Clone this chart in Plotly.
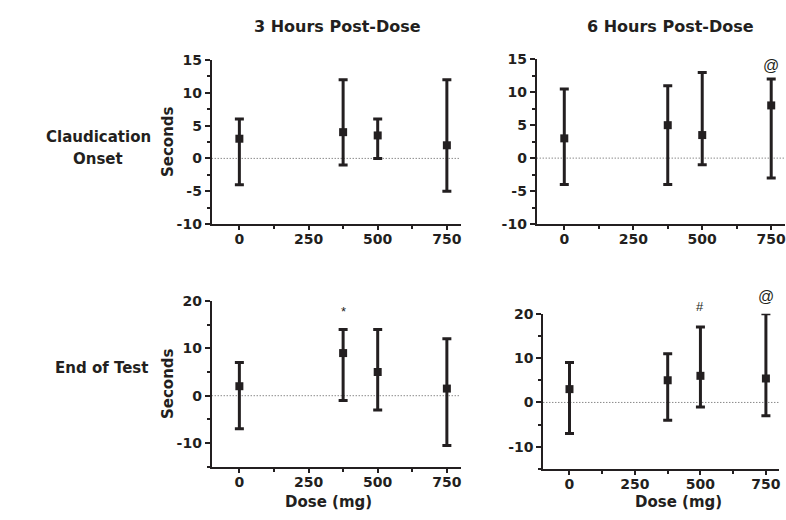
import plotly.graph_objects as go

# ---- data ----
doses = [0, 375, 500, 750]

# Claudication onset, 3 h post-dose
co3_mean = [3, 4, 3.5, 2]
co3_hi = [6, 12, 6, 12]
co3_lo = [-4, -1, 0, -5]

# Claudication onset, 6 h post-dose
co6_mean = [3, 5, 3.5, 8]
co6_hi = [10.5, 11, 13, 12]
co6_lo = [-4, -4, -1, -3]

# End of test, 3 h post-dose
et3_mean = [2, 9, 5, 1.5]
et3_hi = [7, 14, 14, 12]
et3_lo = [-7, -1, -3, -10.5]

# End of test, 6 h post-dose
et6_mean = [3, 5, 6, 5.4]
et6_hi = [9, 11, 17, 20]
et6_lo = [-7, -4, -1, -3]

x_ticks = [0, 250, 500, 750]
y_ticks_top = [-10, -5, 0, 5, 10, 15]
y_ticks_bottom = [-10, 0, 10, 20]
col_titles = ["3 Hours Post-Dose", "6 Hours Post-Dose"]
row_titles = [["Claudication", "Onset"], ["End of Test"]]

# significance marks: (panel, dose, y, symbol)
marks = [
    ("TR", 750, 14.0, "@"),
    ("BL", 375, 17.8, "*"),
    ("BR", 500, 21.6, "#"),
    ("BR", 750, 23.8, "@"),
]

W, H = 786, 520
INK = "#231f20"
FONT = "DejaVu Sans"


def px(x):
    return min(max(x / W, 0), 1)


def py(y):
    return min(max(1 - y / H, 0), 1)


def lab(v):
    return str(v).replace("\u2212", "-")


panels = {
    "TL": dict(ax="", dom_x=(211.7, 460.7), dom_y=(60, 224), xr=[-100, 800], rng=[-10, 15],
               dt=5, ticks=y_ticks_top, mean=co3_mean, hi=co3_hi, lo=co3_lo),
    "TR": dict(ax="2", dom_x=(536.7, 785), dom_y=(59.3, 224), xr=[-100, 800], rng=[-10, 15],
               dt=5, ticks=y_ticks_top, mean=co6_mean, hi=co6_hi, lo=co6_lo),
    "BL": dict(ax="3", dom_x=(211.7, 460.7), dom_y=(301, 466.7), xr=[-100, 800], rng=[-15, 20],
               dt=10, ticks=y_ticks_bottom, mean=et3_mean, hi=et3_hi, lo=et3_lo),
    "BR": dict(ax="4", dom_x=(543.3, 779), dom_y=(313.7, 469), xr=[-100, 800], rng=[-15, 20],
               dt=10, ticks=y_ticks_bottom, mean=et6_mean, hi=et6_hi, lo=et6_lo),
}

fig = go.Figure()
layout = {}
shapes = []
annotations = []

tickfont = dict(family=FONT, size=14, color=INK, weight="bold")

for key, p in panels.items():
    a = p["ax"]
    up = [h - m for h, m in zip(p["hi"], p["mean"])]
    down = [m - l for m, l in zip(p["mean"], p["lo"])]
    fig.add_trace(go.Scatter(
        x=doses, y=p["mean"], mode="markers",
        xaxis="x" + a, yaxis="y" + a,
        marker=dict(symbol="square", size=8, color=INK),
        error_y=dict(type="data", symmetric=False, array=up, arrayminus=down,
                     color=INK, thickness=3, width=4.5),
        showlegend=False, cliponaxis=False,
    ))
    layout["xaxis" + a] = dict(
        domain=[px(p["dom_x"][0]), px(p["dom_x"][1])],
        anchor="y" + a, range=p["xr"], automargin=False,
        tickmode="array", tickvals=x_ticks, ticktext=[lab(v) for v in x_ticks],
        ticks="outside", ticklen=4, tickwidth=2, tickcolor=INK,
        ticklabelstandoff=-3, ticklabeloverflow="allow",
        minor=dict(tickmode="linear", tick0=0, dtick=125, ticks="outside",
                   ticklen=3, tickwidth=1.5, tickcolor=INK),
        showline=True, linewidth=2, linecolor=INK,
        showgrid=False, zeroline=False, tickfont=tickfont,
    )
    layout["yaxis" + a] = dict(
        domain=[py(p["dom_y"][1]), py(p["dom_y"][0])],
        anchor="x" + a, range=p["rng"], automargin=False,
        tickmode="array", tickvals=p["ticks"], ticktext=[lab(v) for v in p["ticks"]],
        ticks="outside", ticklen=5, tickwidth=2, tickcolor=INK,
        minor=dict(tickmode="linear", tick0=0, dtick=p["dt"] / 2, ticks="outside",
                   ticklen=3, tickwidth=1.5, tickcolor=INK),
        showline=True, linewidth=2, linecolor=INK,
        showgrid=False, zeroline=False, tickfont=tickfont,
    )
    shapes.append(dict(type="line", xref="x" + a + " domain", yref="y" + a,
                       x0=0, x1=1, y0=0, y1=0,
                       line=dict(color="#555555", width=1, dash="1px,2px"), layer="below"))

# significance symbols: y given as fraction of the axis range so marks above the
# top of the axis are still drawn
for key, dose, yv, sym in marks:
    p = panels[key]
    a = p["ax"]
    yfrac = (yv - p["rng"][0]) / (p["rng"][1] - p["rng"][0])
    annotations.append(dict(x=dose, y=yfrac, xref="x" + a, yref="y" + a + " domain",
                            text=sym, showarrow=False, xanchor="center", yanchor="middle",
                            font=dict(family="Liberation Sans", size=16 if sym == "@" else 13,
                                      color=INK)))

title_font = dict(family=FONT, size=16, color=INK, weight="bold")
label_font = dict(family=FONT, size=15, color=INK, weight="bold")


def add_text(text, x, y, font, angle=0):
    annotations.append(dict(x=px(x), y=py(y), xref="paper", yref="paper", text=text,
                            showarrow=False, xanchor="center", yanchor="middle",
                            textangle=angle, font=font))


add_text(col_titles[0], 337, 26, title_font)
add_text(col_titles[1], 670, 26, title_font)
add_text(row_titles[0][0], 98, 137, label_font)
add_text(row_titles[0][1], 98, 159, label_font)
add_text(row_titles[1][0], 101, 368, label_font)
add_text("Seconds", 168, 142, label_font, -90)
add_text("Seconds", 168, 384, label_font, -90)
add_text("Dose (mg)", 328.5, 502, label_font)
add_text("Dose (mg)", 678.5, 502, label_font)

fig.update_layout(
    width=W, height=H, margin=dict(l=0, r=0, t=0, b=0, pad=0, autoexpand=False),
    paper_bgcolor="white", plot_bgcolor="white",
    shapes=shapes, annotations=annotations, **layout,
)

# remove the default page margin so the 786x520 figure fills the window exactly
fig.write_html("out.html",
               config={"displayModeBar": False},
               post_script="document.body.style.margin='0';document.body.style.overflow='hidden';")
